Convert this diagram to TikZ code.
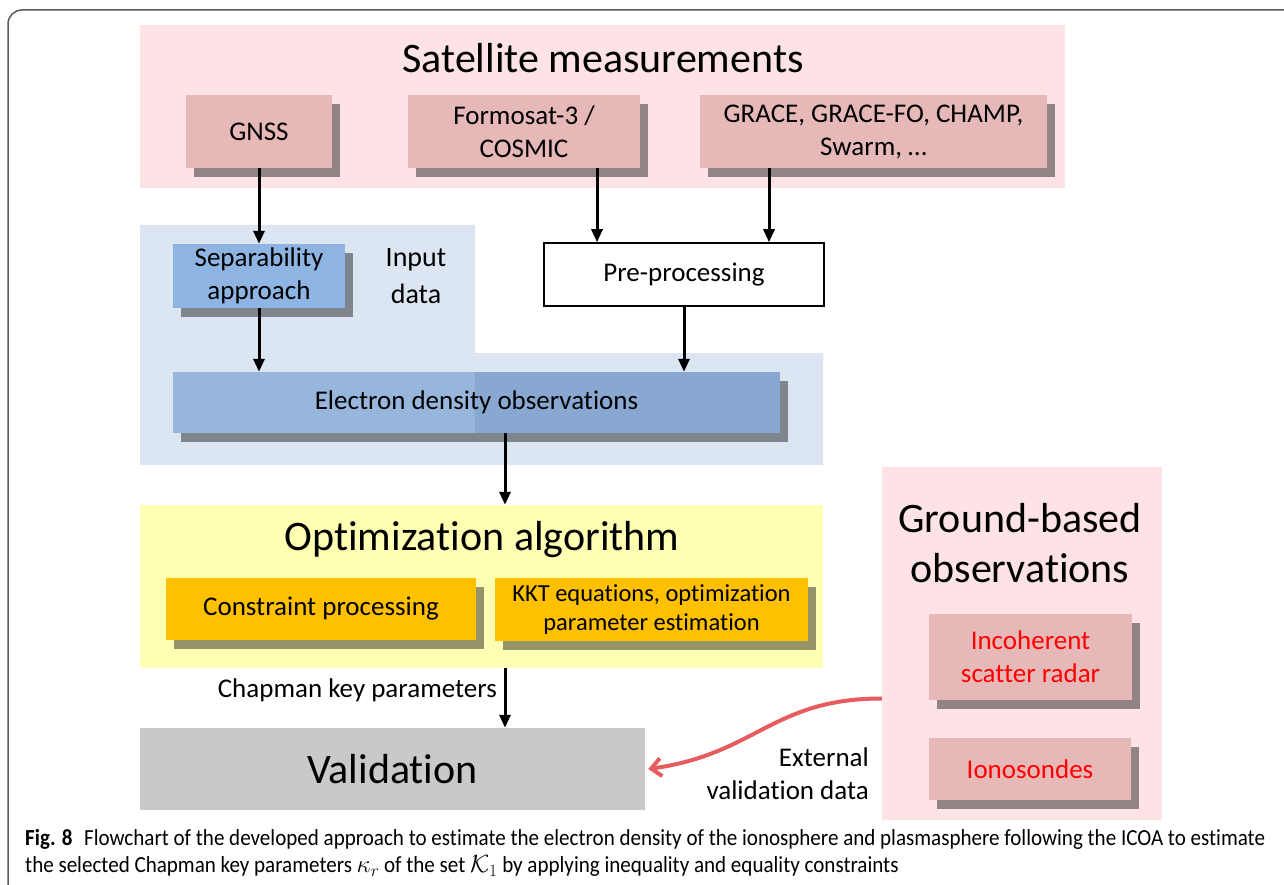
\documentclass[tikz,border=0pt]{standalone}
\usepackage{fontspec}
\setmainfont{Carlito}[Ligatures={NoCommon}]
\newfontfamily\capfont[FakeStretch=0.915,Ligatures={NoCommon}]{Carlito}
\usetikzlibrary{arrows.meta,shadows}
\definecolor{satpink}{HTML}{FDE3E5}
\definecolor{boxpink}{HTML}{E6B9B8}
\definecolor{inblue}{HTML}{DCE6F2}
\definecolor{sepblue}{HTML}{8DB4E2}
\definecolor{elecblue}{HTML}{98B6DB}
\definecolor{elecdark}{HTML}{88A8D2}
\definecolor{optyellow}{HTML}{FFFFB4}
\definecolor{optorange}{HTML}{FFC000}
\definecolor{valgray}{HTML}{C9C9C9}
\definecolor{linkred}{HTML}{E65C5F}
\tikzset{
	region/.style={inner sep=0pt},
	box/.style={inner sep=0pt, align=center, font=\fontsize{27}{33}\selectfont,
		drop shadow={shadow xshift=8pt, shadow yshift=-9pt, fill=black, opacity=.42}},
	title/.style={font=\fontsize{42}{50}\selectfont, align=center},
	arr/.style={line width=3pt, -{Triangle[length=13pt,width=11pt]}},
	redarr/.style={linkred, line width=4pt, -{Straight Barb[length=10pt,width=18pt]}},
}
\begin{document}
\begin{tikzpicture}[x=1pt,y=-1pt]
		\useasboundingbox (0,0) rectangle (1284,885);
		\draw[line width=1.5pt, black!65, rounded corners=14pt] (8,885) -- (8,10) -- (1284,10);
		%satellite part
		\node[region, fill=satpink, minimum width=925pt, minimum height=163pt] (satreg) at (602.5,106.5) {};
		\node[title] (sattitle) at (603,58) {Satellite measurements};
		\node[box, fill=boxpink, minimum width=146pt, minimum height=73pt] (gnss) at (259,131.5) {GNSS};
		\node[box, fill=boxpink, minimum width=232pt, minimum height=73pt] (formosat) at (524,131.5) {Formosat-3 /\\COSMIC};
		\node[box, fill=boxpink, minimum width=347pt, minimum height=73pt] (grace) at (873.5,131.5) {GRACE, GRACE-FO, CHAMP,\\Swarm, \ldots};
		%input data
		\fill[inblue] (140,225) -- (475,225) -- (475,353) -- (823,353) -- (823,465) -- (140,465) -- cycle;
		\node[box, fill=sepblue, minimum width=172pt, minimum height=64pt] (sep) at (259,276) {Separability\\approach};
		\node[font=\fontsize{28}{37}\selectfont, align=center] (inlabel) at (416,276) {Input\\data};
		\node[inner sep=0pt, draw, line width=1.5pt, fill=white, minimum width=280pt, minimum height=63pt,
			font=\fontsize{27}{33}\selectfont] (pre) at (684,274.5) {Pre-processing};
		\node[box, fill=elecblue, minimum width=607pt, minimum height=61pt,
			path picture={\fill[elecdark] ([xshift=302pt]path picture bounding box.south west) rectangle (path picture bounding box.north east);}]
			(elec) at (476.5,402.5) {Electron density observations};
		%optimization
		\node[region, fill=optyellow, minimum width=683pt, minimum height=163pt] (optreg) at (481.5,586.5) {};
		\node[title] (opttitle) at (482,540) {Optimization algorithm};
		\node[box, fill=optorange, minimum width=310pt, minimum height=62pt] (constr) at (321,609) {Constraint processing};
		\node[box, fill=optorange, minimum width=313pt, minimum height=63pt, font=\fontsize{24.5}{29}\selectfont] (kkt) at (651.5,609.5) {KKT equations, optimization\\parameter estimation};
		\node[anchor=east, inner sep=0pt, font=\fontsize{27}{33}\selectfont] (chapman) at (497,690) {Chapman key parameters};
		\node[region, fill=valgray, minimum width=505pt, minimum height=82pt, font=\fontsize{42}{50}\selectfont] (valid) at (392.5,769) {Validation};
		%ground based
		\node[region, fill=satpink, minimum width=280pt, minimum height=353pt] (groundreg) at (1022,643.5) {};
		\node[title] (groundtitle) at (1020,543) {Ground-based\\observations};
		\node[box, fill=boxpink, text=red, minimum width=203pt, minimum height=86pt] (isr) at (1030.5,657) {Incoherent\\scatter radar};
		\node[box, fill=boxpink, text=red, minimum width=202pt, minimum height=62pt] (iono) at (1030,769) {Ionosondes};
		\node[anchor=east, inner sep=0pt, align=right, font=\fontsize{27}{33}\selectfont] (extlabel) at (869,774) {External\\validation data};
		%arrows
		\draw[arr] (gnss.south) -- (sep.north);
		\draw[arr] ([xshift=73pt]formosat.south) -- ([xshift=73pt]formosat.south |- pre.north);
		\draw[arr] ([xshift=-104.5pt]grace.south) -- ([xshift=-104.5pt]grace.south |- pre.north);
		\draw[arr] (sep.south) -- (sep.south |- elec.north);
		\draw[arr] (pre.south) -- (pre.south |- elec.north);
		\draw[arr] ([xshift=28.5pt]elec.south) -- ([xshift=28.5pt]elec.south |- optreg.north);
		\draw[arr] ([xshift=23.5pt]optreg.south) -- ([xshift=23.5pt]optreg.south |- valid.north);
		\draw[redarr] ([yshift=-55pt]groundreg.west) to[out=180,in=8,looseness=1.15] ([xshift=3pt]valid.east);
		%caption
		\node[anchor=north west, inner sep=0pt, align=left, font=\capfont\fontsize{23}{27}\selectfont] (caption) at (25,829)
			{\textbf{Fig. 8}\enspace Flowchart of the developed approach to estimate the electron density of the ionosphere and plasmasphere following the ICOA to estimate\\
			the selected Chapman key parameters $\kappa_r$ of the set $\mathcal{K}_1$ by applying inequality and equality constraints};
\end{tikzpicture}
\end{document}
